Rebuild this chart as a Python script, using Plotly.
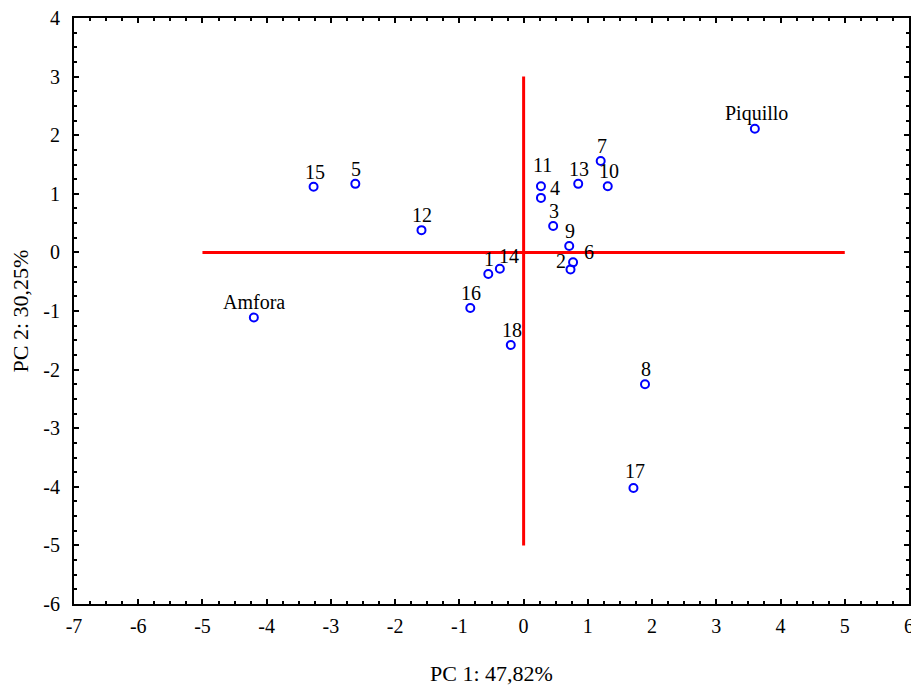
import plotly.graph_objects as go

# ---- data ----
labels = ["Piquillo", "7", "10", "13", "11", "4", "3", "9", "6", "2",
          "1", "14", "16", "18", "8", "17", "15", "5", "12", "Amfora"]
pc1 = [3.60, 1.20, 1.31, 0.85, 0.27, 0.27, 0.46, 0.71, 0.77, 0.73,
       -0.55, -0.37, -0.83, -0.20, 1.89, 1.71, -3.27, -2.62, -1.59, -4.20]
pc2 = [2.11, 1.56, 1.13, 1.17, 1.13, 0.93, 0.45, 0.11, -0.17, -0.29,
       -0.37, -0.28, -0.95, -1.58, -2.25, -4.02, 1.12, 1.17, 0.38, -1.11]

hline_x = [-5, 5]
hline_y = [0, 0]
vline_x = [0, 0]
vline_y = [-5, 3]

x_range = [-7, 6]
y_range = [-6, 4]
x_ticks = list(range(-7, 7))
y_ticks = list(range(-6, 5))

# ---- label offsets (pixels), styling only ----
default_off = (1, 15)
label_off = {"11": (2, 21), "4": (14, 10), "6": (16, 10), "2": (-10, 8),
             "14": (9, 13), "Amfora": (0, 15), "Piquillo": (2, 15), "17": (2, 17)}

FONT = "Liberation Serif, Times New Roman, serif"

fig = go.Figure()
fig.add_trace(go.Scatter(x=hline_x, y=hline_y, mode="lines",
                         line=dict(color="red", width=3), hoverinfo="skip", showlegend=False))
fig.add_trace(go.Scatter(x=vline_x, y=vline_y, mode="lines",
                         line=dict(color="red", width=3), hoverinfo="skip", showlegend=False))
fig.add_trace(go.Scatter(x=pc1, y=pc2, mode="markers",
                         marker=dict(symbol="circle-open", size=8, color="blue",
                                     line=dict(width=2, color="blue")),
                         text=labels, showlegend=False))
# invisible trace bound to the overlay axes that carry the inside tick marks
fig.add_trace(go.Scatter(x=x_range, y=y_range, xaxis="x2", yaxis="y2", mode="markers",
                         marker=dict(opacity=0), hoverinfo="skip", showlegend=False))

for lab, xv, yv in zip(labels, pc1, pc2):
    dx, dy = label_off.get(lab, default_off)
    fig.add_annotation(x=xv, y=yv, text=lab, showarrow=False,
                       xshift=dx, yshift=dy,
                       font=dict(family=FONT, size=20, color="black"))

tickfont = dict(family=FONT, size=20, color="black")
ticks_inside = dict(
    showgrid=False, zeroline=False, showline=True, linecolor="black", linewidth=2,
    mirror="allticks", ticks="inside", ticklen=5, tickwidth=2, tickcolor="black",
    showticklabels=False,
    minor=dict(ticks="inside", ticklen=3, tickwidth=2, tickcolor="black", dtick=0.25),
)
labels_axis = dict(
    showgrid=False, zeroline=False, showline=True, linecolor="black", linewidth=2,
    mirror=True, ticks="outside", tickwidth=0, tickcolor="rgba(0,0,0,0)",
    tickfont=tickfont, ticklabeloverflow="allow",
)

fig.update_layout(
    width=911, height=678, plot_bgcolor="white", paper_bgcolor="white",
    margin=dict(l=66, r=10, t=10, b=82, autoexpand=False),
    xaxis=dict(range=x_range, tickvals=x_ticks, ticktext=[str(v) for v in x_ticks],
               ticklen=3,
               title=dict(text="PC 1: 47,82%", font=dict(family=FONT, size=22, color="black"),
                          standoff=34),
               **labels_axis),
    yaxis=dict(range=y_range, tickvals=y_ticks, ticktext=[str(v) for v in y_ticks],
               ticklen=8,
               title=dict(text="PC 2: 30,25%", font=dict(family=FONT, size=22, color="black"),
                          standoff=9),
               **labels_axis),
    xaxis2=dict(range=x_range, overlaying="x", tickvals=x_ticks, **ticks_inside),
    yaxis2=dict(range=y_range, overlaying="y", tickvals=y_ticks, **ticks_inside),
)

fig.write_html("out.html")
